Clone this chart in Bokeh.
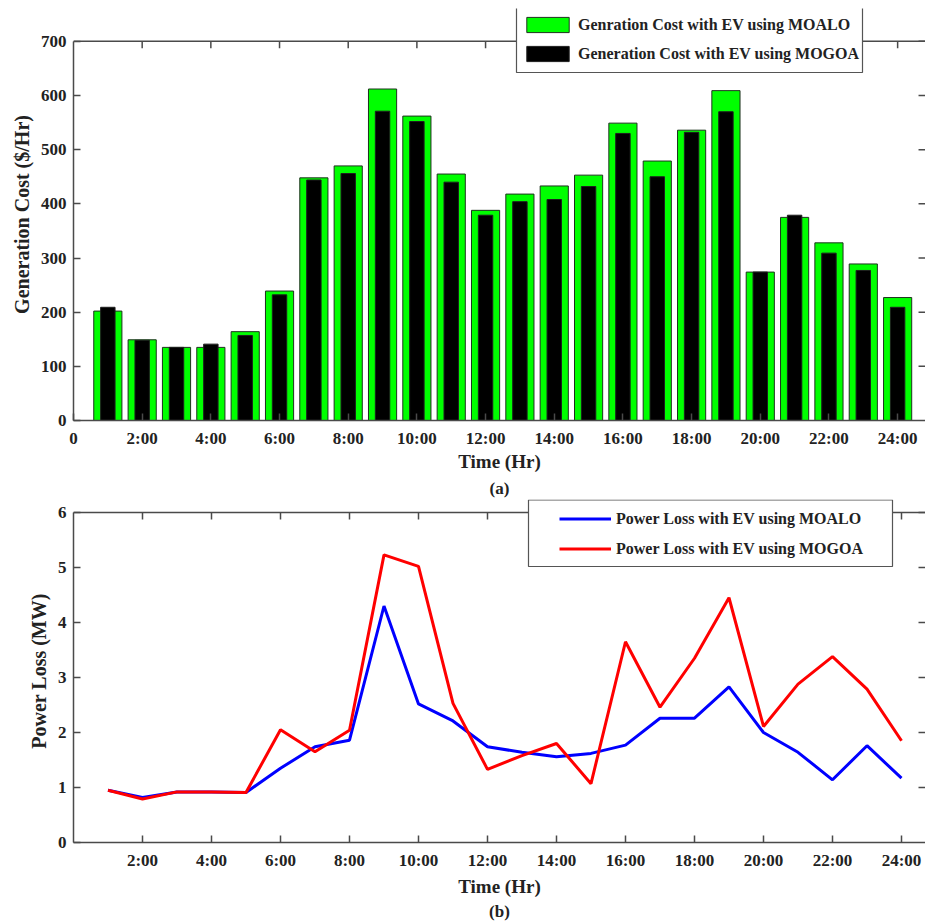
from bokeh.plotting import figure
from bokeh.models import (Range1d, FixedTicker, Legend, LegendItem,
                          Title, BoxAnnotation, Span)
from bokeh.layouts import column
from bokeh.embed import file_html
from bokeh.resources import INLINE

# ---------------- data ----------------
hours = list(range(1, 25))
cost_moalo = [202, 149, 135, 135, 164, 239, 448, 470, 612, 562, 455, 388,
              418, 433, 453, 549, 479, 536, 609, 274, 375, 328, 289, 227]
cost_mogoa = [209, 148, 135, 141, 157, 232, 444, 456, 571, 552, 440, 379,
              404, 408, 432, 530, 450, 532, 570, 274, 379, 309, 277, 209]
loss_moalo = [0.95, 0.82, 0.92, 0.92, 0.91, 1.35, 1.74, 1.86, 4.30, 2.52, 2.21, 1.74,
              1.64, 1.56, 1.62, 1.77, 2.26, 2.26, 2.83, 2.00, 1.64, 1.14, 1.76, 1.17]
loss_mogoa = [0.95, 0.79, 0.92, 0.92, 0.91, 2.05, 1.65, 2.04, 5.23, 5.02, 2.53, 1.33,
              1.58, 1.80, 1.07, 3.65, 2.46, 3.35, 4.45, 2.11, 2.88, 3.38, 2.79, 1.85]

x_ticks_a = [0, 2, 4, 6, 8, 10, 12, 14, 16, 18, 20, 22, 24]
x_labels_a = ["0", "2:00", "4:00", "6:00", "8:00", "10:00", "12:00", "14:00",
              "16:00", "18:00", "20:00", "22:00", "24:00"]
x_ticks_b = [2, 4, 6, 8, 10, 12, 14, 16, 18, 20, 22, 24]
x_labels_b = ["2:00", "4:00", "6:00", "8:00", "10:00", "12:00", "14:00",
              "16:00", "18:00", "20:00", "22:00", "24:00"]
y_ticks_a = [0, 100, 200, 300, 400, 500, 600, 700]
y_ticks_b = [0, 1, 2, 3, 4, 5, 6]

FONT = "Liberation Serif"
AX = "#4a4a4a"
TXT = "#222222"
TICK_PX = 7
PX_PER_HR = 34.5


def style_axes(p, xticks, xlabels, yticks, ytop, px_per_y, xlabel_standoff):
    p.xaxis.ticker = FixedTicker(ticks=xticks)
    p.xaxis.major_label_overrides = {t: l for t, l in zip(xticks, xlabels)}
    p.yaxis.ticker = FixedTicker(ticks=yticks)
    p.yaxis.bounds = (0, ytop)
    for ax in [p.xaxis[0], p.yaxis[0]]:
        ax.axis_line_color = AX
        ax.axis_line_width = 1.5
        ax.major_tick_line_color = AX
        ax.major_tick_line_width = 1.5
        ax.major_tick_in = TICK_PX
        ax.major_tick_out = 0
        ax.minor_tick_line_color = None
        ax.major_label_text_font = FONT
        ax.major_label_text_font_style = "bold"
        ax.major_label_text_font_size = "17px"
        ax.major_label_text_color = TXT
        ax.axis_label_text_font = FONT
        ax.axis_label_text_font_style = "bold"
        ax.axis_label_text_color = TXT
    p.xaxis.major_label_standoff = 8
    p.yaxis.major_label_standoff = 7
    p.xaxis.axis_label_standoff = xlabel_standoff
    p.yaxis.axis_label_standoff = 5
    p.xaxis.axis_label_text_font_size = "19px"
    p.yaxis.axis_label_text_font_size = "20px"
    p.grid.visible = False
    p.outline_line_color = None
    p.background_fill_color = "white"
    p.border_fill_color = "white"
    # top border of the axes box
    p.add_layout(Span(location=ytop, dimension="width", line_color=AX, line_width=1.5))
    # mirrored inward ticks: top edge and right edge
    tx = [t for t in xticks if t > 0]
    dy = TICK_PX / px_per_y
    p.segment(x0=tx, y0=[ytop] * len(tx), x1=tx, y1=[ytop - dy] * len(tx),
              line_color=AX, line_width=1.5)
    xr = p.x_range.end
    dx = TICK_PX / PX_PER_HR
    ty = [t for t in yticks if 0 < t]
    p.segment(x0=[xr] * len(ty), y0=ty, x1=[xr - dx] * len(ty), y1=ty,
              line_color=AX, line_width=1.5)


def legend_box(p, left, right, top, bottom):
    p.add_layout(BoxAnnotation(left=left, right=right, top=top, bottom=bottom,
                               left_units="screen", right_units="screen",
                               top_units="screen", bottom_units="screen",
                               fill_color="white", fill_alpha=1,
                               line_color="#555555", line_width=1.2, line_alpha=1))


# ---------------- (a) generation cost ----------------
# frame: x 69..925, y 8..422 ; 700 -> y=41
PX_A = (422 - 41) / 700.0
p1 = figure(width=925, height=499, output_backend="svg", toolbar_location=None,
            x_range=Range1d(0, (925 - 69) / PX_PER_HR),
            y_range=Range1d(0, (422 - 8) / PX_A),
            min_border_left=69, min_border_right=0, min_border_top=8,
            min_border_bottom=77)
r1 = p1.vbar(x=hours, top=cost_moalo, width=0.82, fill_color="#00ff00",
             line_color="#1e321e", line_width=1)
r2 = p1.vbar(x=hours, top=cost_mogoa, width=0.42, fill_color="black",
             line_color="#1e1e1e", line_width=1)
p1.xaxis.axis_label = "Time (Hr)"
p1.yaxis.axis_label = "Generation Cost ($/Hr)"
style_axes(p1, x_ticks_a, x_labels_a, y_ticks_a, 700, PX_A, 0)
p1.add_layout(Title(text="(a)", align="center", text_font=FONT, text_font_size="17px",
                    text_font_style="bold", text_color=TXT, standoff=4), "below")

legend_box(p1, 443, 789, 413.5, 348)
leg1 = Legend(items=[LegendItem(label="Genration Cost with EV using MOALO", renderers=[r1]),
                     LegendItem(label="Generation Cost with EV using MOGOA", renderers=[r2])],
              location=(448, 357), orientation="vertical",
              glyph_width=53, glyph_height=19, label_height=19, spacing=10,
              padding=0, margin=0, label_standoff=4,
              label_text_font=FONT, label_text_font_style="bold",
              label_text_font_size="16px", label_text_color=TXT,
              border_line_color=None, background_fill_alpha=0)
p1.add_layout(leg1)

# ---------------- (b) power loss ----------------
# frame: x 73..925, y 499..842 (page) ; 6 -> y=512
PX_B = (842 - 512) / 6.0
p2 = figure(width=925, height=423, output_backend="svg", toolbar_location=None,
            x_range=Range1d(0, (925 - 73) / PX_PER_HR),
            y_range=Range1d(0, (842 - 499) / PX_B),
            min_border_left=73, min_border_right=0, min_border_top=0,
            min_border_bottom=80)
l1 = p2.line(hours, loss_moalo, line_color="#0000ff", line_width=3)
l2 = p2.line(hours, loss_mogoa, line_color="#ff0000", line_width=3)
p2.xaxis.axis_label = "Time (Hr)"
p2.yaxis.axis_label = "Power Loss (MW)"
style_axes(p2, x_ticks_b, x_labels_b, y_ticks_b, 6, PX_B, 3)
p2.add_layout(Title(text="(b)", align="center", text_font=FONT, text_font_size="17px",
                    text_font_style="bold", text_color=TXT, standoff=0), "below")

legend_box(p2, 455, 819, 342.5, 276)
leg2 = Legend(items=[LegendItem(label="Power Loss with EV using MOALO", renderers=[l1]),
                     LegendItem(label="Power Loss with EV using MOGOA", renderers=[l2])],
              location=(486, 284), orientation="vertical",
              glyph_width=52, glyph_height=19, label_height=19, spacing=11,
              padding=0, margin=0, label_standoff=5,
              label_text_font=FONT, label_text_font_style="bold",
              label_text_font_size="16px", label_text_color=TXT,
              border_line_color=None, background_fill_alpha=0)
p2.add_layout(leg2)

layout = column(p1, p2, spacing=0)
open("out.html", "w").write(file_html(layout, INLINE))
